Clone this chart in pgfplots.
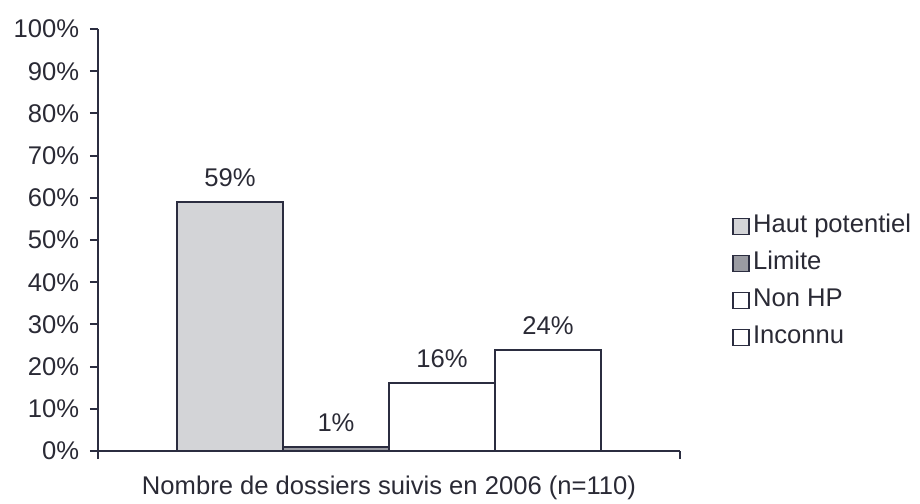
\documentclass[border=0pt]{standalone}
\usepackage{pgfplots}
\pgfplotsset{compat=1.18}
\usepackage{fontspec}
\setmainfont{Liberation Sans}
\definecolor{ln}{HTML}{2B2D40}
\definecolor{txt}{HTML}{2A2A35}
\definecolor{hp}{HTML}{D3D4D7}
\definecolor{lim}{HTML}{9A9BA2}
\begin{document}
\fontsize{12.8}{15}\selectfont
\begin{tikzpicture}
\begin{axis}[
  at={(0,0)}, anchor=south west,
  scale only axis, width=291pt, height=211pt,
  xmin=0, xmax=291, ymin=0, ymax=100,
  axis lines=left, axis line style={ln, line width=1pt, -},
  xtick={0,291}, xticklabels={},
  ytick={0,10,...,100},
  yticklabels={0\%,10\%,20\%,30\%,40\%,50\%,60\%,70\%,80\%,90\%,100\%},
  tick align=outside, major tick length=4pt,
  tick style={ln, line width=1pt},
  yticklabel style={font=\fontsize{12.8}{15}\selectfont, text=txt, xshift=-1pt},
  xlabel={Nombre de dossiers suivis en 2006 (n=110)},
  xlabel style={at={(axis description cs:0.5,0)}, anchor=north, yshift=-8pt, text=txt, font=\fontsize{12.8}{15}\selectfont},
  clip=false,
  nodes near coords={\pgfmathprintnumber[assume math mode=true]{\pgfplotspointmeta}\%},
  nodes near coords style={font=\fontsize{12.8}{15}\selectfont, text=txt, anchor=south, yshift=3pt},
  legend cell align=left,
  legend image code/.code={\draw[#1, line width=0.8pt] (0pt,-4pt) rectangle (8pt,4pt);},
  legend style={at={(axis description cs:1.0895,0.577)}, anchor=north west, draw=none, fill=none,
    inner sep=0pt, font=\fontsize{12.8}{15}\selectfont, text=txt,
    nodes={text height=9.5pt, text depth=3pt, inner ysep=3pt, inner xsep=1.5pt}},
]
\addplot[ybar, bar width=53, bar shift=0pt, draw=ln, line width=1pt, fill=hp] coordinates {(66,59)};
\addplot[ybar, bar width=53, bar shift=0pt, draw=ln, line width=1pt, fill=lim] coordinates {(119,1)};
\addplot[ybar, bar width=53, bar shift=0pt, draw=ln, line width=1pt, fill=white] coordinates {(172,16)};
\addplot[ybar, bar width=53, bar shift=0pt, draw=ln, line width=1pt, fill=white] coordinates {(225,24)};
\legend{Haut potentiel, Limite, Non HP, Inconnu}
\end{axis}
\pgfresetboundingbox
\path (-49pt,-26pt) rectangle (411pt,225.5pt);
\end{tikzpicture}
\end{document}
